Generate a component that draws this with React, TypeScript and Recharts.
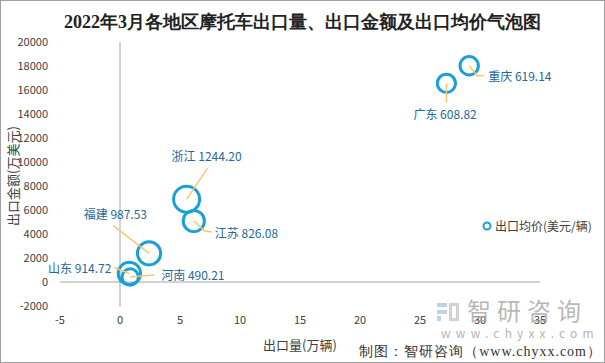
import React from 'react';
import {
    ScatterChart,
    Scatter,
    XAxis,
    YAxis,
    ZAxis,
    ReferenceLine,
    LabelList,
    Legend,
} from 'recharts';

// 各地区 2022年3月 摩托车出口
const regions = ['重庆', '广东', '浙江', '江苏', '福建', '山东', '河南'];
const exportVolume = [29.1, 27.2, 5.55, 6.15, 2.42, 0.78, 0.85]; // 万辆
const exportValue = [18020, 16560, 6905, 5080, 2390, 713, 417]; // 万美元
const avgPrice = [619.14, 608.82, 1244.2, 826.08, 987.53, 914.72, 490.21]; // 美元/辆

const xTicks = [-5, 0, 5, 10, 15, 20, 25, 30, 35];
const yTicks = [-2000, 0, 2000, 4000, 6000, 8000, 10000, 12000, 14000, 16000, 18000, 20000];

// leader line + label placement relative to bubble centre (same order as regions)
const labelLayout = [
    { line: [[8, 10], [15, 10]], text: [19, 10], anchor: 'start' },
    { line: [[0, 19]], text: [-33, 30], anchor: 'start' },
    { line: [[21, -31]], text: [-15, -44], anchor: 'start' },
    { line: [[11, 10], [18, 11]], text: [21, 11], anchor: 'start' },
    { line: [[-36, -28]], text: [-2, -40], anchor: 'end' },
    { line: [[-15, -6]], text: [-18, -6], anchor: 'end' },
    { line: [[24, -2]], text: [31, -2], anchor: 'start' },
];

const BLUE = '#19a0d8';
const GOLD = '#f5c96b';
const font = '"Noto Sans CJK SC", "Noto Sans", sans-serif';

const data = regions.map((name, i) => ({
    name,
    x: exportVolume[i],
    y: exportValue[i],
    z: avgPrice[i],
}));

const BubbleLabel = (props: any) => {
    const vb = props.viewBox && props.viewBox.width !== undefined ? props.viewBox : props;
    const cx = vb.x + (vb.width || 0) / 2;
    const cy = vb.y + (vb.height || 0) / 2;
    const i = props.index;
    const lay = labelLayout[i];
    if (!lay) return null;
    const pts = [[0, 0], ...lay.line].map(p => `${cx + p[0]},${cy + p[1]}`).join(' ');
    return (
        <g>
            <polyline points={pts} fill="none" stroke={GOLD} strokeWidth={1.5} />
            <text
                x={cx + lay.text[0]}
                y={cy + lay.text[1]}
                textAnchor={lay.anchor as any}
                dominantBaseline="central"
                fontSize={12}
                fontFamily={font}
                fill="#236a9a"
            >
                {`${regions[i]} ${avgPrice[i].toFixed(2)}`}
            </text>
        </g>
    );
};

const LegendContent = () => (
    <div style={{ display: 'flex', alignItems: 'center', fontFamily: font, fontSize: 12, color: '#404040', whiteSpace: 'nowrap' }}>
        <svg width={10} height={10} style={{ marginRight: 3 }}>
            <circle cx={5} cy={5} r={3.5} fill="#fff" stroke={BLUE} strokeWidth={2} />
        </svg>
        出口均价(美元/辆)
    </div>
);

export default function App() {
    return (
        <div style={{ position: 'relative', width: 605, height: 363, background: '#fff', fontFamily: font }}>
            <style>{'body{margin:0}'}</style>
            <ScatterChart
                width={605}
                height={363}
                margin={{ top: 42, right: 65, bottom: 27, left: 10 }}
            >
                <XAxis
                    type="number"
                    dataKey="x"
                    domain={[-5, 35]}
                    ticks={xTicks}
                    axisLine={false}
                    tickLine={false}
                    height={30}
                    tickMargin={4}
                    tick={{ fill: '#404040', fontSize: 11, fontFamily: font }}
                />
                <YAxis
                    type="number"
                    dataKey="y"
                    domain={[-2000, 20000]}
                    ticks={yTicks}
                    axisLine={false}
                    tickLine={false}
                    width={50}
                    tickMargin={6}
                    tick={{ fill: '#404040', fontSize: 11, fontFamily: font }}
                />
                <ZAxis type="number" dataKey="z" domain={[0, 1300]} range={[0, 556]} />
                <ReferenceLine y={0} stroke="#a6a6a6" strokeWidth={1} />
                <ReferenceLine x={0} stroke="#a6a6a6" strokeWidth={1} />
                <Legend
                    layout="horizontal"
                    verticalAlign="middle"
                    align="center"
                    wrapperStyle={{ left: 482, top: 217, width: 'auto' }}
                    content={LegendContent}
                />
                <Scatter
                    name="出口均价(美元/辆)"
                    data={data}
                    fill="#fff"
                    fillOpacity={0}
                    stroke={BLUE}
                    strokeWidth={3}
                    isAnimationActive={false}
                >
                    <LabelList dataKey="name" content={BubbleLabel} />
                </Scatter>
            </ScatterChart>

            {/* title */}
            <div style={{ position: 'absolute', top: 10, left: 0, width: 605, textAlign: 'center', fontFamily: '"Liberation Serif", serif', fontWeight: 'bold', fontSize: 18, color: '#222', lineHeight: '24px' }}>
                2022年3月各地区摩托车出口量、出口金额及出口均价气泡图
            </div>
            {/* axis titles */}
            <div style={{ position: 'absolute', left: 12, top: 176, transform: 'translate(-50%, -50%) rotate(-90deg)', fontSize: 13, color: '#404040', whiteSpace: 'nowrap' }}>
                出口金额(万美元)
            </div>
            <div style={{ position: 'absolute', left: 300, top: 344, transform: 'translate(-50%, -50%)', fontSize: 13, color: '#404040', whiteSpace: 'nowrap' }}>
                出口量(万辆)
            </div>
            {/* watermark */}
            <div style={{ position: 'absolute', left: 437, top: 302, opacity: 0.6 }}>
                <svg width={23} height={18}>
                    <rect x={0} y={0} width={10} height={4} fill="#8fb8dc" />
                    <rect x={0} y={7} width={10} height={4} fill="#8fb8dc" />
                    <rect x={0} y={13} width={4} height={5} fill="#8fb8dc" />
                    <rect x={12} y={0} width={10} height={18} fill="#b5b5b5" />
                    <rect x={15} y={3} width={4} height={12} fill="#fff" />
                </svg>
            </div>
            <div style={{ position: 'absolute', left: 467, top: 295, fontSize: 24, lineHeight: '30px', color: 'rgba(160,160,160,0.75)', letterSpacing: 6, whiteSpace: 'nowrap' }}>
                智研咨询
            </div>
            <div style={{ position: 'absolute', left: 441, top: 325, fontSize: 12, lineHeight: '16px', color: 'rgba(160,160,160,0.8)', letterSpacing: 5.2, whiteSpace: 'nowrap' }}>
                www.chyxx.com
            </div>
            {/* source */}
            <div style={{ position: 'absolute', right: 3, top: 343, fontSize: 14, fontFamily: '"Liberation Serif", serif', color: '#333', letterSpacing: 1, whiteSpace: 'nowrap' }}>
                制图：智研咨询（www.chyxx.com）
            </div>
            <div style={{ position: 'absolute', inset: 0, border: '1px solid #a0a0a0', pointerEvents: 'none' }} />
        </div>
    );
}
